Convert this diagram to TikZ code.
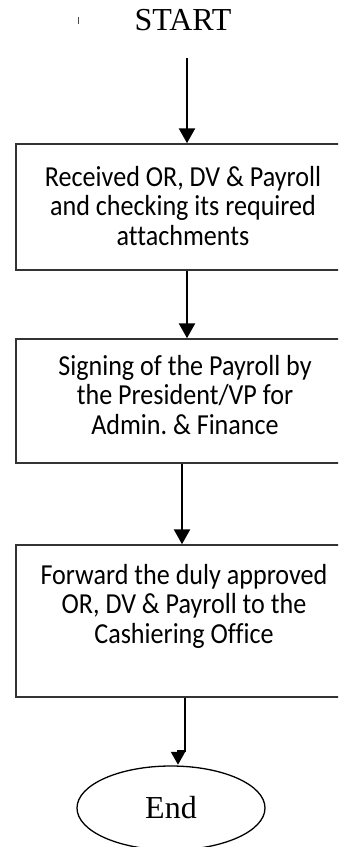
\documentclass[tikz,border=0pt]{standalone}
\usepackage{fontspec}
\setmainfont{Liberation Serif}
\newfontfamily\calib[Ligatures=NoCommon]{Carlito}
\usetikzlibrary{arrows.meta,shapes.geometric}
\frenchspacing
\begin{document}
\begin{tikzpicture}[x=1pt,y=1pt,
  boxnode/.style={draw=black!80,line width=1.5pt,rectangle,minimum width=336pt,inner sep=0pt},
  boxtext/.style={anchor=north,align=center,inner sep=0pt,transform shape,xscale=0.9,font=\calib\fontsize{29}{29.5}\selectfont},
  arr/.style={line width=2.6pt,-{Triangle[length=15pt,width=16pt]}},
  termtext/.style={font=\fontsize{32}{36}\selectfont,inner sep=0pt}]
\useasboundingbox (0,0) rectangle (338,-847);
\clip (0,0) rectangle (338,-847);
% stray tick
\draw[line width=0.8pt,black!70] (78,-17) -- (78,-24);
\node[termtext,anchor=base] (start) at (183,-30) {START};
\coordinate (a0) at (187,-58);
\node[boxnode,minimum height=126pt] (b1) at (184,-207) {};
\node[boxtext] (t1) at (183,-166) {Received OR, DV \& Payroll\\and checking its required\\attachments};
\node[boxnode,minimum height=124pt] (b2) at (184,-401) {};
\node[boxtext] (t2) at (185,-355) {Signing of the Payroll by\\the President/VP for\\Admin. \& Finance};
\node[boxnode,minimum height=152pt] (b3) at (184,-621) {};
\node[boxtext] (t3) at (184,-564) {Forward the duly approved\\OR, DV \& Payroll to the\\Cashiering Office};
\node[draw=black,line width=1.3pt,ellipse,minimum width=188pt,minimum height=84pt,inner sep=0pt] (e) at (171,-808) {};
\node[termtext] (endt) at (171,-808) {End};
\draw[arr] (a0) -- (a0 |- b1.north);
\draw[arr] ([xshift=3pt]b1.south) -- ([xshift=3pt]b2.north);
\draw[arr] ([xshift=-2pt]b2.south) -- ([xshift=-2pt]b3.north);
\draw[line width=2.2pt,-{Triangle[length=13pt,width=14pt]}] ([xshift=1pt]b3.south) -- ++(0,-53) -- ++(-7,0) -- ++(0,-14);
\end{tikzpicture}
\end{document}
